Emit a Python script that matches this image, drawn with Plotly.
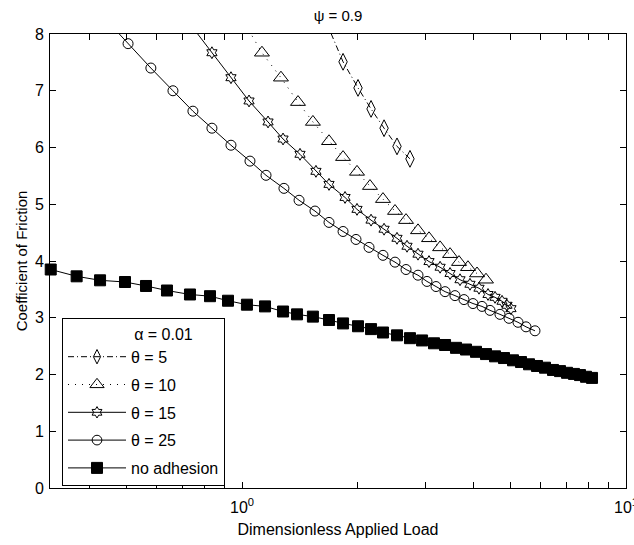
import plotly.graph_objects as go

# ---- data ----
theta5_x = [1.655, 1.833, 2.005, 2.168, 2.344, 2.533, 2.738]
theta5_y = [8.22, 7.51, 7.05, 6.68, 6.34, 6.02, 5.80]

theta10_x = [1.018, 1.127, 1.263, 1.399, 1.530, 1.685, 1.833, 1.993, 2.154, 2.329, 2.503,
             2.674, 2.873, 3.069, 3.280, 3.482, 3.674, 3.877, 4.093, 4.319]
theta10_y = [8.18, 7.67, 7.23, 6.80, 6.45, 6.11, 5.83, 5.57, 5.32, 5.09, 4.88,
             4.72, 4.54, 4.40, 4.24, 4.12, 3.98, 3.89, 3.78, 3.67]

theta15_x = [0.745, 0.835, 0.936, 1.043, 1.169, 1.279, 1.416, 1.558, 1.685, 1.855, 1.993,
             2.168, 2.344, 2.533, 2.690, 2.873, 3.069, 3.280, 3.482, 3.696, 3.924,
             4.142, 4.372, 4.560, 4.755, 4.899, 5.017]
theta15_y = [8.11, 7.67, 7.23, 6.82, 6.45, 6.15, 5.88, 5.58, 5.35, 5.12, 4.91,
             4.72, 4.56, 4.40, 4.26, 4.12, 3.99, 3.89, 3.78, 3.67, 3.59,
             3.52, 3.41, 3.36, 3.29, 3.22, 3.16]

theta25_x = [0.440, 0.505, 0.579, 0.661, 0.745, 0.835, 0.936, 1.049, 1.155, 1.286, 1.408,
             1.549, 1.685, 1.833, 1.981, 2.142, 2.329, 2.503, 2.674, 2.873, 3.032,
             3.201, 3.379, 3.586, 3.785, 3.995, 4.217, 4.424, 4.697, 4.958, 5.233,
             5.490, 5.794]
theta25_y = [8.27, 7.83, 7.40, 7.00, 6.64, 6.34, 6.04, 5.76, 5.51, 5.28, 5.07,
             4.88, 4.68, 4.52, 4.38, 4.24, 4.10, 3.98, 3.85, 3.75, 3.64,
             3.55, 3.46, 3.39, 3.32, 3.25, 3.20, 3.13, 3.06, 2.99, 2.92,
             2.84, 2.77]

noadh_x = [0.3176, 0.3710, 0.4269, 0.4958, 0.5623, 0.6377, 0.7320, 0.8254, 0.9195, 1.030,
           1.148, 1.279, 1.391, 1.530, 1.685, 1.833, 2.005, 2.168, 2.329, 2.533,
           2.738, 2.944, 3.162, 3.379, 3.608, 3.831, 4.068, 4.319, 4.560, 4.812,
           5.079, 5.329, 5.590, 5.865, 6.153, 6.455, 6.732, 7.021, 7.320, 7.590,
           7.869, 8.157]
noadh_y = [3.85, 3.73, 3.66, 3.63, 3.56, 3.48, 3.41, 3.38, 3.30, 3.23,
           3.20, 3.11, 3.06, 3.02, 2.96, 2.90, 2.85, 2.80, 2.74, 2.69,
           2.64, 2.60, 2.55, 2.52, 2.47, 2.44, 2.40, 2.36, 2.32, 2.29,
           2.25, 2.22, 2.18, 2.15, 2.12, 2.08, 2.06, 2.03, 2.01, 1.99,
           1.96, 1.94]

x_tick_vals = [0.4, 0.5, 0.6, 0.7, 0.8, 0.9, 1, 2, 3, 4, 5, 6, 7, 8, 9, 10]
x_tick_text = ["", "", "", "", "", "", "10<sup>0</sup>", "", "", "", "", "", "", "", "",
               "10<sup>1</sup>"]
Y_MAX = 8

FONT = "Liberation Sans, Arial, sans-serif"

series = [
    ("θ = 5", theta5_x, theta5_y, "diamond-tall-open", 12, "6px,3px,1px,3px"),
    ("θ = 10", theta10_x, theta10_y, "triangle-up-open", 13, "1px,6px"),
    ("θ = 15", theta15_x, theta15_y, "hexagram-open", 9, "solid"),
    ("θ = 25", theta25_x, theta25_y, "circle-open", 10, "solid"),
    ("no adhesion", noadh_x, noadh_y, "square", 11, "solid"),
]

fig = go.Figure()
for i, (name, xs, ys, sym, sz, dash) in enumerate(series):
    sizes = [0 if y > Y_MAX else sz for y in ys]
    fig.add_trace(go.Scatter(
        x=xs, y=ys, name=name, mode="lines+markers",
        line=dict(color="black", width=1, dash=dash),
        marker=dict(symbol=sym, size=sizes, color="black", opacity=1,
                    line=dict(color="black", width=1)),
        cliponaxis=False, legendgroup=str(i),
    ))

fig.update_layout(
    width=634, height=545,
    margin=dict(l=50, r=8, t=34, b=57),
    paper_bgcolor="white", plot_bgcolor="white",
    font=dict(family=FONT, size=16, color="black"),
    title=dict(text="ψ = 0.9", x=(50 + 626) / 2 / 634, xanchor="center",
               y=1 - 16 / 545, yanchor="middle", font=dict(size=15)),
    showlegend=True,
    legend=dict(
        x=12 / 576, y=(488 - 318) / 454, xanchor="left", yanchor="top",
        bgcolor="white", bordercolor="black", borderwidth=1,
        font=dict(size=16), tracegroupgap=4, traceorder="grouped",
        itemwidth=58,
        title=dict(text="&nbsp;" * 9 + "α = 0.01", side="top center", font=dict(size=16)),
    ),
)
fig.update_xaxes(
    type="log", range=[-0.5, 1], showgrid=False, zeroline=False,
    showline=True, linecolor="black", linewidth=1, mirror="ticks",
    ticks="inside", ticklen=6, tickwidth=1, tickcolor="black",
    tickvals=x_tick_vals, ticktext=x_tick_text, ticklabeloverflow="allow",
    tickfont=dict(size=16), ticklabelstandoff=5, automargin=False,
    title=dict(text="Dimensionless Applied Load", standoff=8, font=dict(size=16)),
)
fig.update_yaxes(
    range=[0, 8], dtick=1, showgrid=False, zeroline=False,
    showline=True, linecolor="black", linewidth=1, mirror="ticks",
    ticks="inside", ticklen=6, tickwidth=1, tickcolor="black",
    tickfont=dict(size=16), ticklabelstandoff=2, automargin=False,
    title=dict(text="Coefficient of Friction", standoff=3, font=dict(size=15)),
)

fig.write_html("out.html")
